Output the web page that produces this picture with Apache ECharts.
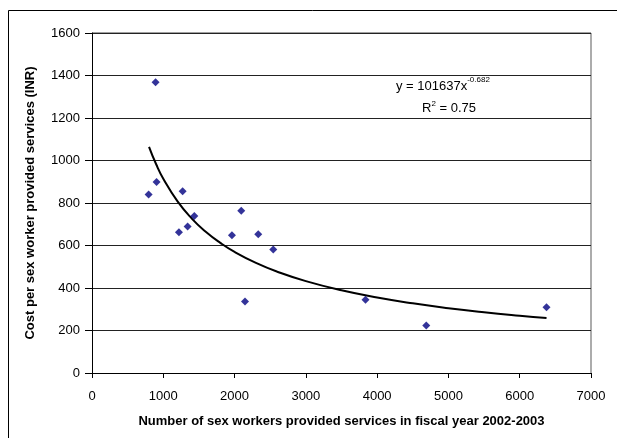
<!DOCTYPE html>
<html>
<head>
<meta charset="utf-8">
<script src="https://cdn.jsdelivr.net/npm/echarts@6/dist/echarts.min.js"></script>
<style>
  html, body { margin: 0; padding: 0; background: #fff; }
  #chart { width: 617px; height: 438px; }
</style>
</head>
<body>
<div id="chart"></div>
<script>
// sex workers served vs cost per sex worker
const workers = [794, 892, 906, 1220, 1271, 1341, 1435, 1963, 2094, 2146, 2332, 2543, 3837, 4689, 6376]
const costs = [840, 1368, 899, 662, 855, 689, 739, 648, 764, 337, 653, 581, 345, 223, 309]

// power trendline as printed on the chart
const trendA = 101637
const trendB = -0.682
const trendX = [800, 900, 1000, 1200, 1400, 1600, 1800, 2000, 2300, 2600, 3000, 3500, 4000, 4500, 5000, 5500, 6000, 6376]

const chart = echarts.init(document.getElementById('chart'))
const font = 'Liberation Sans, Arial, sans-serif'

const option = {
    animation: false,
    grid: { left: 92, right: 26, top: 33, bottom: 65 },
    xAxis: {
        type: 'value',
        min: 0, max: 7000, interval: 1000,
        name: 'Number of sex workers provided services in fiscal year 2002-2003',
        nameLocation: 'middle',
        nameGap: 42,
        nameTextStyle: { fontFamily: font, fontSize: 13, fontWeight: 'bold', color: '#000' },
        axisLine: { lineStyle: { color: '#000', width: 1 } },
        axisTick: { show: true, length: 5, lineStyle: { color: '#000' } },
        axisLabel: { fontFamily: font, fontSize: 13, color: '#000', margin: 17, formatter: v => String(v) },
        splitLine: { show: false }
    },
    yAxis: {
        type: 'value',
        min: 0, max: 1600, interval: 200,
        name: 'Cost per sex worker provided services (INR)',
        nameLocation: 'middle',
        nameGap: 55,
        nameTextStyle: { fontFamily: font, fontSize: 13, fontWeight: 'bold', color: '#000' },
        axisLine: { show: true, lineStyle: { color: '#000', width: 1 } },
        axisTick: { show: true, length: 7, lineStyle: { color: '#000' } },
        axisLabel: { fontFamily: font, fontSize: 13, color: '#000', margin: 12, formatter: v => String(v) },
        splitLine: { show: true, lineStyle: { color: '#222', width: 1 } }
    },
    graphic: [
        // outer chart frame (top and left visible)
        { type: 'line', shape: { x1: 8.5, y1: 10.5, x2: 617, y2: 10.5 }, style: { stroke: '#000', lineWidth: 1 } },
        { type: 'line', shape: { x1: 8.5, y1: 10.5, x2: 8.5, y2: 438 }, style: { stroke: '#000', lineWidth: 1 } },
        // plot area border, grey top and right
        { type: 'line', shape: { x1: 92, y1: 33, x2: 591, y2: 33 }, style: { stroke: '#808080', lineWidth: 1.5 } },
        { type: 'line', shape: { x1: 591, y1: 33, x2: 591, y2: 373 }, style: { stroke: '#909090', lineWidth: 1.5 } },
        {
            type: 'text', left: 396, top: 76,
            style: {
                text: '{a|y = 101637x}{s|-0.682}',
                rich: {
                    a: { fontFamily: font, fontSize: 13, fill: '#000', verticalAlign: 'bottom' },
                    s: { fontFamily: font, fontSize: 8, fill: '#000', verticalAlign: 'top', padding: [0, 0, 9, 0] }
                }
            }
        },
        {
            type: 'text', left: 422, top: 100,
            style: {
                text: '{a|R}{s|2}{a| = 0.75}',
                rich: {
                    a: { fontFamily: font, fontSize: 13, fill: '#000' },
                    s: { fontFamily: font, fontSize: 8, fill: '#000', padding: [0, 0, 8, 0] }
                }
            }
        }
    ],
    series: [
        {
            type: 'line',
            data: trendX.map(x => [x, trendA * Math.pow(x, trendB)]),
            smooth: true,
            showSymbol: false,
            lineStyle: { color: '#000', width: 2 },
            z: 3
        },
        {
            type: 'scatter',
            data: workers.map((w, i) => [w, costs[i]]),
            symbol: 'diamond',
            symbolSize: 8,
            itemStyle: { color: '#000080' },
            z: 4
        }
    ]
}
chart.setOption(option)
</script>
</body>
</html>
